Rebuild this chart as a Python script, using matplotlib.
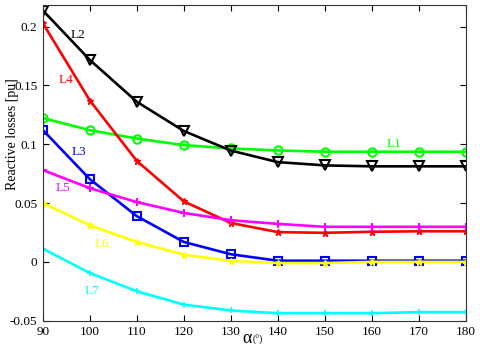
import matplotlib
matplotlib.use("Agg")
import matplotlib.pyplot as plt

alpha = [90, 100, 110, 120, 130, 140, 150, 160, 170, 180]
L1 = [0.1222, 0.1119, 0.1048, 0.0992, 0.0964, 0.0947, 0.0936, 0.0936, 0.0936, 0.0936]
L2 = [0.2135, 0.1715, 0.1360, 0.1112, 0.0946, 0.0848, 0.0820, 0.0812, 0.0812, 0.0812]
L3 = [0.1119, 0.0702, 0.0388, 0.0169, 0.0065, 0.0010, 0.0010, 0.0010, 0.0010, 0.0010]
L4 = [0.2026, 0.1370, 0.0857, 0.0514, 0.0331, 0.0253, 0.0247, 0.0256, 0.0260, 0.0260]
L5 = [0.0780, 0.0626, 0.0508, 0.0416, 0.0354, 0.0323, 0.0298, 0.0298, 0.0298, 0.0298]
L6 = [0.0500, 0.0310, 0.0169, 0.0062, 0.0008, -0.0010, -0.0010, 0.0000, 0.0000, 0.0000]
L7 = [0.0112, -0.0095, -0.0250, -0.0363, -0.0413, -0.0436, -0.0436, -0.0436, -0.0427, -0.0427]

xticks = [90, 100, 110, 120, 130, 140, 150, 160, 170, 180]
yticks = [-0.05, 0, 0.05, 0.1, 0.15, 0.2]
ytick_labels = ["-0.05", "0", "0.05", "0.1", "0.15", "0.2"]

plt.rcParams['font.family'] = ['Liberation Serif', 'DejaVu Serif']

fig = plt.figure(figsize=(4.8, 3.49), dpi=100)
ax = fig.add_axes([0.0896, 0.081, 0.8804, 0.9047])

lw = 1.9
ax.plot(alpha, L1, color='#00ff00', lw=lw, marker='o', ms=6, mfc='none', mew=1.5)
ax.plot(alpha, L2, color='black', lw=lw, marker='v', ms=7, mfc='none', mew=1.5)
ax.plot(alpha, L3, color='#0000ff', lw=lw, marker='s', ms=6, mfc='none', mew=1.5)
ax.plot(alpha, L4, color='#ff0000', lw=lw, marker='*', ms=5, mew=1.0)
ax.plot(alpha, L5, color='#ff00ff', lw=lw, marker='+', ms=6, mew=1.5)
ax.plot(alpha, L6, color='#ffff00', lw=lw, marker='*', ms=5, mew=1.0)
ax.plot(alpha, L7, color='#00ffff', lw=lw, marker='+', ms=5, mew=1.2)

fs = 9.5
ax.text(97.5, 0.193, 'L2', color='black', fontsize=fs, ha='center', va='center')
ax.text(94.8, 0.1545, 'L4', color='#ff0000', fontsize=fs, ha='center', va='center')
ax.text(97.7, 0.0935, 'L3', color='#0000ff', fontsize=fs, ha='center', va='center')
ax.text(164.7, 0.1005, 'L1', color='#00ff00', fontsize=fs, ha='center', va='center')
ax.text(94.3, 0.0625, 'L5', color='#ff00ff', fontsize=fs, ha='center', va='center')
ax.text(102.5, 0.0153, 'L6', color='#ffff00', fontsize=fs, ha='center', va='center')
ax.text(100.5, -0.0245, 'L7', color='#00ffff', fontsize=fs, ha='center', va='center')

ax.set_xlim(90, 180)
ax.set_ylim(-0.05, 0.2183)
ax.set_xticks(xticks)
ax.set_yticks(yticks)
ax.set_yticklabels(ytick_labels)
ax.tick_params(direction='in', top=True, right=True, labelsize=9.5, length=4, width=0.8, pad=4)
for s in ax.spines.values():
    s.set_linewidth(0.8)
    s.set_color('#333333')

fig.text(0.026, 0.615, 'Reactive losses [pu]', rotation=90, fontsize=10,
         ha='center', va='center')
ax.text(0.483, -0.057, 'α', transform=ax.transAxes, fontsize=13, ha='center', va='center')
ax.text(0.497, -0.06, '(°)', transform=ax.transAxes, fontsize=7, ha='left', va='center')

fig.savefig('out.png', dpi=100)
